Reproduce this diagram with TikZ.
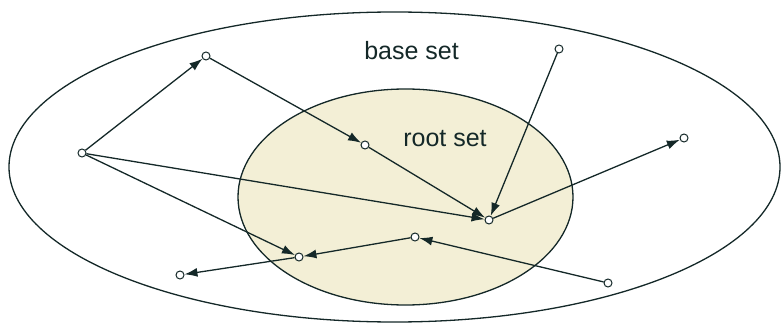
\documentclass[tikz,border=0pt]{standalone}
\usepackage{fontspec}
\setmainfont{Liberation Sans}
\usetikzlibrary{arrows.meta}
\definecolor{linec}{RGB}{20,40,40}
\definecolor{rootfill}{RGB}{243,239,214}
\tikzset{
  vtx/.style={circle,draw=linec,fill=white,line width=1pt,inner sep=0pt,minimum size=8pt},
  edge/.style={draw=linec,line width=1.3pt,-{Latex[length=13pt,width=9pt]}},
  setlabel/.style={font=\fontsize{25}{25}\selectfont,text=linec,anchor=base,inner sep=0pt},
  setborder/.style={draw=linec,line width=1.3pt}
}
\begin{document}
\begin{tikzpicture}[x=1pt,y=-1pt]
\useasboundingbox (0,0) rectangle (782,326);
\draw[setborder] (394.5,167) ellipse [x radius=385.5,y radius=155];
\draw[setborder,fill=rootfill] (405.5,197) ellipse [x radius=167.5,y radius=108];
\node[setlabel] (base) at (411.5,60) {base set};
\node[setlabel] (root) at (445,147) {root set};
\node[vtx] (A) at (82,153) {};
\node[vtx] (B) at (206,56) {};
\node[vtx] (C) at (365,145) {};
\node[vtx] (D) at (489,220) {};
\node[vtx] (E) at (559,49) {};
\node[vtx] (F) at (684,138) {};
\node[vtx] (G) at (415,237) {};
\node[vtx] (H) at (299,257) {};
\node[vtx] (I) at (180,275) {};
\node[vtx] (J) at (608,283) {};
\draw[edge] (A) -- (B);
\draw[edge] (B) -- (C);
\draw[edge] (C) -- (D);
\draw[edge] (A) -- (D);
\draw[edge] (A) -- (H);
\draw[edge] (E) -- (D);
\draw[edge] (D) -- (F);
\draw[edge] (J) -- (G);
\draw[edge] (G) -- (H);
\draw[edge] (H) -- (I);
\end{tikzpicture}
\end{document}
